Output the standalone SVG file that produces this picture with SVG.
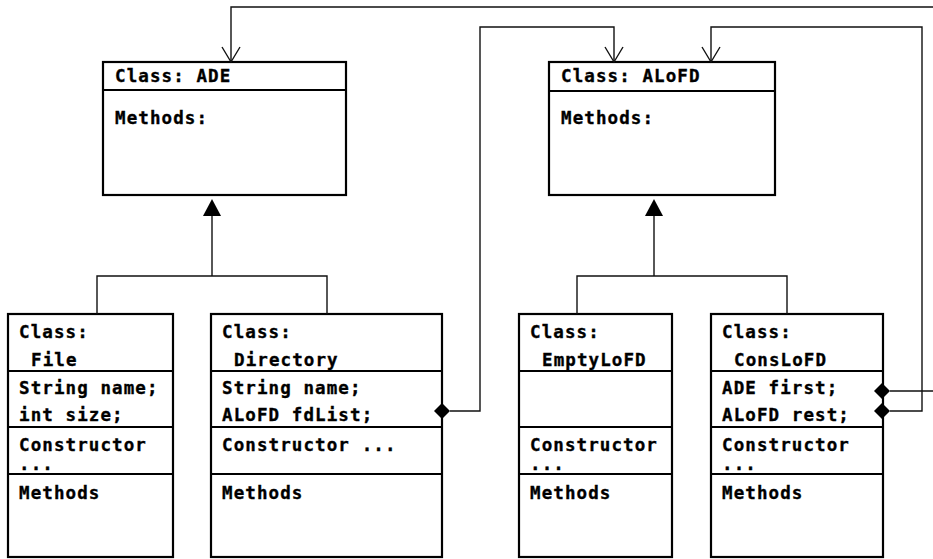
<svg xmlns="http://www.w3.org/2000/svg" width="933" height="559" viewBox="0 0 933 559">
  <style>
    .box { fill: #fff; stroke: #000; stroke-width: 2.2; }
    .div { stroke: #000; stroke-width: 2; fill: none; }
    .t { font-family: "DejaVu Sans Mono", "Liberation Mono", monospace; font-weight: bold; font-size: 17.5px; letter-spacing: 1.1px; fill: #000; stroke: #000; stroke-width: 0.35; }
    .wire { fill: none; stroke: #111; stroke-width: 1.4; }
    .tri { fill: #000; }
    .open { fill: none; stroke: #111; stroke-width: 1.4; }
    .dia { fill: #000; }
  </style>

  <!-- abstract class ADE -->
  <g id="ADE">
    <rect class="box" x="103" y="62" width="243" height="133"/>
    <line class="div" x1="103" y1="90" x2="346" y2="90"/>
    <text class="t" x="115" y="82">Class: ADE</text>
    <text class="t" x="115" y="124">Methods:</text>
  </g>

  <!-- abstract class ALoFD -->
  <g id="ALoFD">
    <rect class="box" x="549" y="62" width="226" height="133"/>
    <line class="div" x1="549" y1="91" x2="775" y2="91"/>
    <text class="t" x="561" y="82">Class: ALoFD</text>
    <text class="t" x="561" y="124">Methods:</text>
  </g>

  <!-- class File -->
  <g id="File">
    <rect class="box" x="8" y="314" width="165" height="243"/>
    <line class="div" x1="8" y1="371" x2="173" y2="371"/>
    <line class="div" x1="8" y1="427" x2="173" y2="427"/>
    <line class="div" x1="8" y1="474" x2="173" y2="474"/>
    <text class="t" x="19" y="338">Class:</text>
    <text class="t" x="31" y="366">File</text>
    <text class="t" x="19" y="394">String name;</text>
    <text class="t" x="19" y="421">int size;</text>
    <text class="t" x="19" y="451">Constructor</text>
    <text class="t" x="19" y="470">...</text>
    <text class="t" x="19" y="499">Methods</text>
  </g>

  <!-- class Directory -->
  <g id="Directory">
    <rect class="box" x="211" y="314" width="231" height="243"/>
    <line class="div" x1="211" y1="371" x2="442" y2="371"/>
    <line class="div" x1="211" y1="427" x2="442" y2="427"/>
    <line class="div" x1="211" y1="474" x2="442" y2="474"/>
    <text class="t" x="222" y="338">Class:</text>
    <text class="t" x="234" y="366">Directory</text>
    <text class="t" x="222" y="394">String name;</text>
    <text class="t" x="222" y="421">ALoFD fdList;</text>
    <text class="t" x="222" y="451">Constructor ...</text>
    <text class="t" x="222" y="499">Methods</text>
  </g>

  <!-- class EmptyLoFD -->
  <g id="EmptyLoFD">
    <rect class="box" x="519" y="314" width="153" height="243"/>
    <line class="div" x1="519" y1="371" x2="672" y2="371"/>
    <line class="div" x1="519" y1="427" x2="672" y2="427"/>
    <line class="div" x1="519" y1="474" x2="672" y2="474"/>
    <text class="t" x="530" y="338">Class:</text>
    <text class="t" x="542" y="366">EmptyLoFD</text>
    <text class="t" x="530" y="451">Constructor</text>
    <text class="t" x="530" y="470">...</text>
    <text class="t" x="530" y="499">Methods</text>
  </g>

  <!-- class ConsLoFD -->
  <g id="ConsLoFD">
    <rect class="box" x="711" y="314" width="172" height="243"/>
    <line class="div" x1="711" y1="371" x2="883" y2="371"/>
    <line class="div" x1="711" y1="427" x2="883" y2="427"/>
    <line class="div" x1="711" y1="474" x2="883" y2="474"/>
    <text class="t" x="722" y="338">Class:</text>
    <text class="t" x="734" y="366">ConsLoFD</text>
    <text class="t" x="722" y="394">ADE first;</text>
    <text class="t" x="722" y="421">ALoFD rest;</text>
    <text class="t" x="722" y="451">Constructor</text>
    <text class="t" x="722" y="470">...</text>
    <text class="t" x="722" y="499">Methods</text>
  </g>

  <!-- connectors (drawn last so the diamonds sit on the box borders) -->
  <g id="connectors">
    <!-- inheritance: File / Directory -> ADE -->
    <path class="wire" d="M97 314 V276 H327 V314 M212 276 V214"/>
    <polygon class="tri" points="212,199 203,216 221,216"/>
    <!-- inheritance: EmptyLoFD / ConsLoFD -> ALoFD -->
    <path class="wire" d="M577 314 V276 H787 V314 M654 276 V214"/>
    <polygon class="tri" points="654,199 645,216 663,216"/>

    <!-- Directory.fdList -> ALoFD -->
    <path class="wire" d="M450 411 H480 V27 H614 V61"/>
    <polygon class="dia" points="434,411 442,403 450,411 442,419"/>
    <path class="open" d="M605 47 L614 62 L623 47"/>

    <!-- ConsLoFD.first -> ADE -->
    <path class="wire" d="M890 391 H934 V7 H231 V61"/>
    <polygon class="dia" points="874,391 882,383 890,391 882,399"/>
    <path class="open" d="M222 47 L231 62 L240 47"/>

    <!-- ConsLoFD.rest -> ALoFD -->
    <path class="wire" d="M890 411 H922 V27 H711 V61"/>
    <polygon class="dia" points="874,411 882,403 890,411 882,419"/>
    <path class="open" d="M702 47 L711 62 L720 47"/>
  </g>
</svg>
